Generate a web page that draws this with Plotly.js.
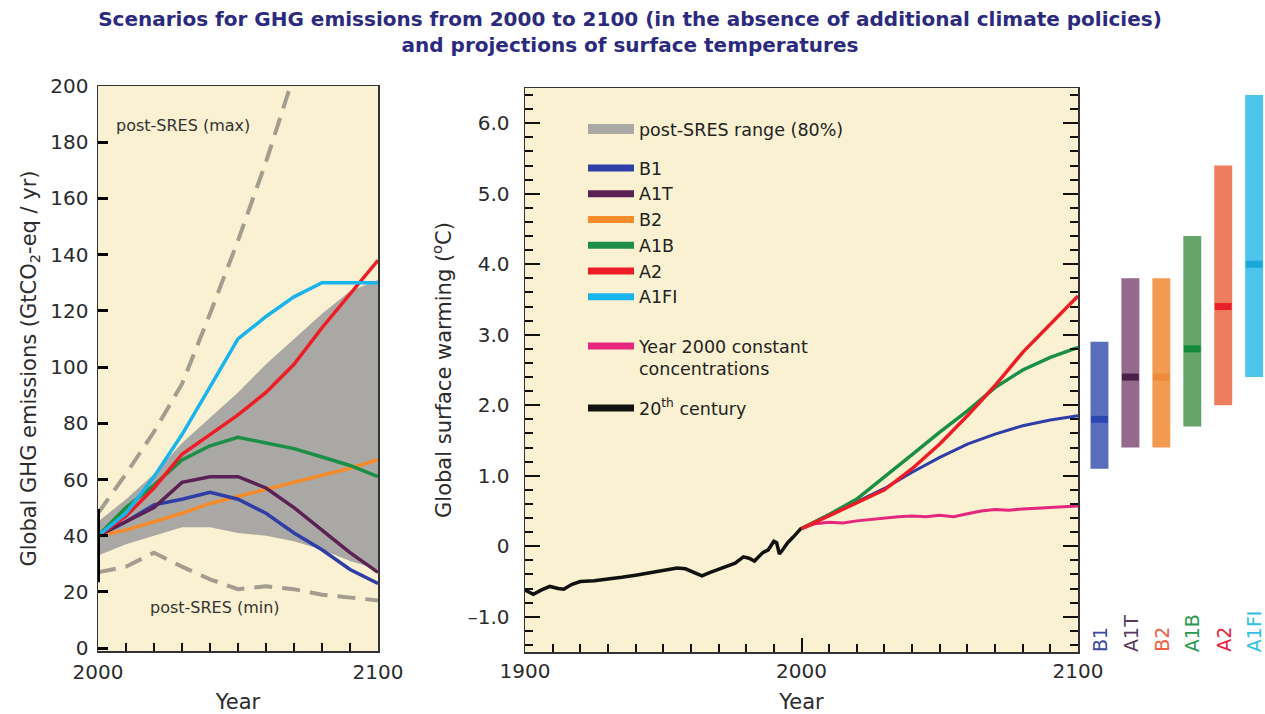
<!DOCTYPE html>
<html><head><meta charset="utf-8">
<script src="https://cdn.plot.ly/plotly-3.0.1.min.js"></script>
<style>html,body{margin:0;padding:0;background:#fff}#chart{width:1265px;height:714px}</style>
</head><body><div id="chart"></div>
<script>
// ---------- Left panel: GHG emissions (GtCO2-eq / yr) ----------
const emisYears  = [2000,2010,2020,2030,2040,2050,2060,2070,2080,2090,2100];
const emisB1     = [40,45,51,53,55.5,53,48,41,35,28,23];
const emisA1T    = [40,45,50,59,61,61,57,50,42,34,27];
const emisB2     = [40,42,45,48,51.5,54,56.5,59,61.5,64,67];
const emisA1B    = [40,50,58,67,72,75,73,71,68,65,61];
const emisA2     = [40,47,57,69,76,83,91,101,114,126,138];
const emisA1FI   = [40,48,61,76,93,110,118,125,130,130,130];
const rangeUpper = [45,53,62,73,82,91,101,110,119,127,131];
const rangeLower = [33,37,40,43,43,41,40,38,35,31,28];
const maxYears   = [2000,2010,2020,2030,2040,2050,2060,2070,2080];
const postSresMax= [48,62,77,94,119,145,173,203,235];
const postSresMin= [27,29,34,29,24.5,21,22,21,19,18,17];
const emis2000Year = [2000,2000];
const emis2000Range= [23.5,49.5];
const emisYTicks = [0,20,40,60,80,100,120,140,160,180,200];
const emisXTicks = [2000,2100];

// ---------- Middle panel: global surface warming (°C) ----------
const projYears = [2000,2010,2020,2030,2040,2050,2060,2070,2080,2090,2100];
const warmB1    = [0.25,0.45,0.63,0.82,1.05,1.26,1.45,1.59,1.71,1.79,1.85];
const warmA1B   = [0.25,0.45,0.67,0.98,1.30,1.62,1.92,2.25,2.50,2.68,2.82];
const warmA2    = [0.25,0.43,0.62,0.80,1.10,1.45,1.85,2.28,2.75,3.15,3.55];
const constYears= [2000,2005,2010,2015,2020,2025,2030,2035,2040,2045,2050,2055,2060,2065,2070,2075,2080,2085,2090,2095,2100];
const warmConst = [0.25,0.32,0.34,0.33,0.36,0.38,0.41,0.42,0.43,0.42,0.44,0.42,0.46,0.50,0.52,0.51,0.53,0.54,0.55,0.57,0.57];
const histYears = [1900,1903,1906,1909,1912,1914,1917,1920,1925,1930,1935,1940,1945,1950,1955,1958,1961,1964,1967,1970,1973,1976,1979,1981,1983,1986,1988,1990,1991,1992,1993,1995,1997,2000];
const histWarm  = [-0.62,-0.68,-0.62,-0.57,-0.60,-0.61,-0.54,-0.50,-0.49,-0.47,-0.44,-0.41,-0.38,-0.34,-0.31,-0.32,-0.37,-0.42,-0.37,-0.33,-0.29,-0.24,-0.15,-0.17,-0.21,-0.09,-0.05,0.07,0.05,-0.11,-0.06,0.05,0.13,0.26];
const warmYTicks  = [-1,0,1,2,3,4,5,6];
const warmYLabels = ['\u20131.0','0','1.0','2.0','3.0','4.0','5.0','6.0'];

// ---------- Right: likely ranges at 2100 ----------
const scenarios  = ['B1','A1T','B2','A1B','A2','A1FI'];
const likelyLow  = [1.1,1.4,1.4,1.7,2.0,2.4];
const likelyHigh = [2.9,3.8,3.8,4.4,5.4,6.4];
const bestEst    = [1.8,2.4,2.4,2.8,3.4,4.0];

// ---------- styles ----------
const C = {B1:'#2e3ea6', A1T:'#5b2155', B2:'#f68b2c', A1B:'#1a8f45', A2:'#ee1c25', A1FI:'#1ab4ec', CONST:'#e5267f', HIST:'#111111', RANGE:'#a9a8a4'};
const barFill = ['#5a6fbc','#94698c','#f29b50','#66a46a','#ee7c5e','#4cc4ec'];
const barBest = ['#2a46b0','#4a1f48','#ee8a38','#128a3a','#e81e2a','#1aa8dc'];
const labelCol= ['#3a4aa0','#5a3a60','#f0603e','#2a9a50','#e8203a','#30c0e0'];
const FONT = 'DejaVu Sans';
const CREAM = '#f9f1d1';

const traces = [];
traces.push({x:emisYears, y:rangeLower, xaxis:'x', yaxis:'y', mode:'lines', line:{width:0}, showlegend:false, hoverinfo:'skip'});
traces.push({x:emisYears, y:rangeUpper, xaxis:'x', yaxis:'y', mode:'lines', line:{width:0}, fill:'tonexty', fillcolor:C.RANGE, showlegend:false, name:'post-SRES range (80%)', hoverinfo:'skip'});
traces.push({x:maxYears, y:postSresMax, xaxis:'x', yaxis:'y', mode:'lines', line:{color:'#a39d90', width:4, dash:'18px,10px'}, showlegend:false});
traces.push({x:emisYears, y:postSresMin, xaxis:'x', yaxis:'y', mode:'lines', line:{color:'#a39d90', width:4, dash:'18px,10px'}, showlegend:false});
const emisSeries = {B2:emisB2, B1:emisB1, A1T:emisA1T, A1B:emisA1B, A2:emisA2, A1FI:emisA1FI};
['B2','B1','A1T','A1B','A2','A1FI'].forEach(k=>{
  traces.push({x:emisYears, y:emisSeries[k], xaxis:'x', yaxis:'y', mode:'lines', line:{color:C[k], width:3.5}, showlegend:false, name:k});
});
traces.push({x:emis2000Year, y:emis2000Range, xaxis:'x', yaxis:'y', mode:'lines', line:{color:'#000', width:4}, showlegend:false, cliponaxis:false});

traces.push({x:histYears, y:histWarm, xaxis:'x2', yaxis:'y2', mode:'lines', line:{color:C.HIST, width:3.5}, showlegend:false, name:'20th century'});
traces.push({x:constYears, y:warmConst, xaxis:'x2', yaxis:'y2', mode:'lines', line:{color:C.CONST, width:3}, showlegend:false, name:'Year 2000 constant concentrations'});
traces.push({x:projYears, y:warmB1, xaxis:'x2', yaxis:'y2', mode:'lines', line:{color:C.B1, width:3}, showlegend:false, name:'B1'});
traces.push({x:projYears, y:warmA1B, xaxis:'x2', yaxis:'y2', mode:'lines', line:{color:C.A1B, width:3.5}, showlegend:false, name:'A1B'});
traces.push({x:projYears, y:warmA2, xaxis:'x2', yaxis:'y2', mode:'lines', line:{color:C.A2, width:3.5}, showlegend:false, name:'A2'});

// legend samples
traces.push({x:[null], y:[null], xaxis:'x2', yaxis:'y2', mode:'lines', line:{color:C.RANGE, width:16}, name:'post-SRES range (80%)', legend:'legend', hoverinfo:'skip'});
scenarios.forEach(k=>{
  traces.push({x:[null], y:[null], xaxis:'x2', yaxis:'y2', mode:'lines', line:{color:C[k], width:7}, name:k, legend:'legend2', hoverinfo:'skip'});
});
traces.push({x:[null], y:[null], xaxis:'x2', yaxis:'y2', mode:'lines', line:{color:C.CONST, width:7}, name:'Year 2000 constant<br>concentrations', legend:'legend3', hoverinfo:'skip'});
traces.push({x:[null], y:[null], xaxis:'x2', yaxis:'y2', mode:'lines', line:{color:C.HIST, width:7}, name:'20<sup>th</sup> century', legend:'legend4', hoverinfo:'skip'});

traces.push({type:'bar', x:scenarios, y:likelyHigh.map((h,i)=>h-likelyLow[i]), base:likelyLow, xaxis:'x3', yaxis:'y2', marker:{color:barFill, line:{width:0}}, width:0.58, textposition:'none', showlegend:false, hoverinfo:'skip'});
traces.push({type:'scatter', x:scenarios, y:bestEst, xaxis:'x3', yaxis:'y2', mode:'markers', marker:{symbol:'line-ew', size:12, color:barBest, line:{color:barBest, width:7}}, showlegend:false, cliponaxis:false});

const tickFont = {family:FONT, size:20, color:'#2b2b2b'};
const titleFont = {family:FONT, size:21, color:'#2b2b2b'};
const legFont = {family:FONT, size:17.5, color:'#222'};

const layout = {
  width:1265, height:714,
  margin:{l:0,r:0,t:0,b:0},
  paper_bgcolor:'#ffffff', plot_bgcolor:'rgba(0,0,0,0)',
  font:{family:FONT, color:'#2b2b2b'},
  title:{text:'Scenarios for GHG emissions from 2000 to 2100 (in the absence of additional climate policies)<br>and projections of surface temperatures',
         x:0.498, xanchor:'center', y:0.964, yanchor:'top',
         font:{family:FONT, size:20, weight:'bold', color:'#2b2a7e'}},
  showlegend:true,
  barmode:'overlay',
  xaxis:{domain:[98/1265, 378/1265], anchor:'y', range:[2000,2100], tickmode:'array', tickvals:emisXTicks,
         ticks:'inside', ticklen:8, tickwidth:2, tickcolor:'#111', ticklabelstandoff:2,
         minor:{tickmode:'linear', tick0:2000, dtick:10, ticks:'inside', ticklen:8, tickwidth:2, tickcolor:'#111'},
         showline:true, linecolor:'#333', linewidth:1.5, mirror:true,
         showgrid:false, zeroline:false, tickfont:tickFont, title:{text:'Year', font:titleFont, standoff:14}},
  yaxis:{domain:[(714-651)/714, (714-86)/714], anchor:'x', range:[-1,200], tickmode:'array', tickvals:emisYTicks,
         ticks:'inside', ticklen:10, tickwidth:3, tickcolor:'#000', showline:true, linecolor:'#333', linewidth:1.5, mirror:true,
         showgrid:false, zeroline:false, tickfont:tickFont, ticklabelstandoff:4,
         title:{text:'Global GHG emissions (GtCO<sub>2</sub>-eq / yr)', font:titleFont, standoff:8}},
  xaxis2:{domain:[525/1265, 1078/1265], anchor:'y2', range:[1900,2100], tickmode:'linear', tick0:1900, dtick:100,
          ticks:'inside', ticklen:14, tickwidth:2, tickcolor:'#111',
          minor:{tickmode:'linear', tick0:1900, dtick:10, ticks:'inside', ticklen:8, tickwidth:2, tickcolor:'#111'},
          showline:true, linecolor:'#333', linewidth:1.5, mirror:true, showgrid:false, zeroline:false, tickfont:tickFont,
          title:{text:'Year', font:titleFont, standoff:14}},
  yaxis2:{domain:[(714-652)/714, (714-88)/714], anchor:'x2', range:[-1.5,6.5], tickmode:'array', tickvals:warmYTicks, ticktext:warmYLabels,
          ticks:'inside', ticklen:15, tickwidth:2, tickcolor:'#111',
          minor:{tickmode:'linear', tick0:0, dtick:0.2, ticks:'inside', ticklen:8, tickwidth:2, tickcolor:'#111'},
          showline:true, linecolor:'#333', linewidth:1.5, mirror:'ticks', showgrid:false, zeroline:false, tickfont:tickFont,
          ticklabelstandoff:10,
          title:{text:'Global surface warming (<sup>o</sup>C)', font:titleFont, standoff:10}},
  xaxis3:{domain:[1084/1265, 1], anchor:'y2', type:'category', range:[-0.5,5.35], visible:true, showticklabels:false, ticks:'',
          showline:false, showgrid:false, zeroline:false},
  legend:{x:583/1265, xanchor:'left', y:(714-111)/714, yanchor:'top', bgcolor:'rgba(0,0,0,0)', font:legFont, itemwidth:46},
  legend2:{x:583/1265, xanchor:'left', y:(714-150)/714, yanchor:'top', bgcolor:'rgba(0,0,0,0)', font:legFont, itemwidth:46, traceorder:'normal'},
  legend3:{x:583/1265, xanchor:'left', y:(714-328)/714, yanchor:'top', bgcolor:'rgba(0,0,0,0)', font:legFont, itemwidth:46, valign:'top'},
  legend4:{x:583/1265, xanchor:'left', y:(714-390)/714, yanchor:'top', bgcolor:'rgba(0,0,0,0)', font:legFont, itemwidth:46},
  shapes:[
    {type:'rect', xref:'x domain', yref:'y domain', x0:0, x1:1, y0:0, y1:1, fillcolor:CREAM, line:{width:0}, layer:'below'},
    {type:'rect', xref:'x2 domain', yref:'y2 domain', x0:0, x1:1, y0:0, y1:1, fillcolor:CREAM, line:{width:0}, layer:'below'}
  ],
  annotations:[
    {xref:'x', yref:'y', x:2030.4, y:186, text:'post-SRES (max)', showarrow:false, font:{family:FONT, size:16, color:'#333'}},
    {xref:'x', yref:'y', x:2041.8, y:14.3, text:'post-SRES (min)', showarrow:false, font:{family:FONT, size:16, color:'#333'}}
  ].concat(scenarios.map((s,i)=>({xref:'x3', yref:'paper', x:s, y:(714-654)/714, yanchor:'bottom', xanchor:'center', textangle:-90,
      text:s, showarrow:false, font:{family:FONT, size:19, color:labelCol[i]}})))
};

Plotly.newPlot('chart', traces, layout, {displayModeBar:false, staticPlot:true});
</script>
</body></html>
